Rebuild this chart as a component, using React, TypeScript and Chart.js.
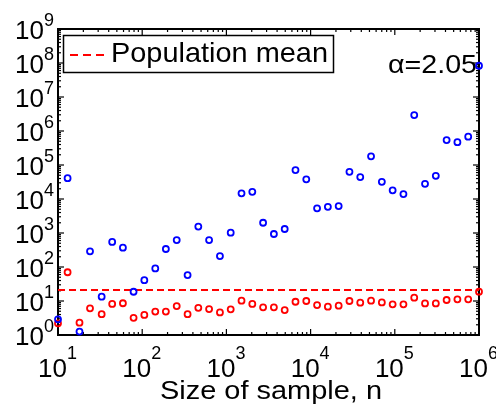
import React, { useEffect, useRef } from "react";
import { Chart, registerables } from "chart.js";

Chart.register(...registerables);

// Sample sizes n (log-spaced, 40 points from 10 to 10^6)
const SAMPLE_SIZES = [
  10, 13, 18, 24, 33, 44, 59, 79, 106, 143, 191, 257, 346, 464, 623, 838, 1125,
  1512, 2031, 2728, 3665, 4924, 6615, 8886, 11938, 16037, 21544, 28943, 38881,
  52233, 70170, 94267, 126638, 170125, 228546, 307029, 412463, 554102, 744380,
  1000000,
];

// Blue series
const BLUE_VALUES = [
  2.9, 41000, 1.26, 290, 13.4, 545, 370, 18.7, 41, 91, 338, 620, 58, 1540, 620,
  210, 1020, 14700, 16300, 2000, 935, 1310, 71000, 38000, 5300, 5900, 6200,
  63000, 44000, 180000, 32000, 18000, 14000, 2950000, 28000, 48000, 540000,
  470000, 680000, 83000000,
];

// Red series
const RED_VALUES = [
  2.2, 70, 2.3, 6.1, 4.1, 8.2, 8.6, 3.2, 3.9, 4.9, 4.9, 7.1, 4.1, 6.3, 5.8, 4.6,
  5.7, 10.2, 8.2, 6.5, 6.5, 5.4, 9.5, 10, 7.6, 6.8, 7.3, 10, 8.9, 10.2, 9.1, 8.0,
  8.0, 12.5, 8.5, 8.5, 10.7, 11.2, 11.2, 18.8,
];

const POPULATION_MEAN = 21;
const X_RANGE = [10, 1000000];
const Y_RANGE = [1, 1000000000];
const X_TICK_EXPONENTS = [1, 2, 3, 4, 5, 6];
const Y_TICK_EXPONENTS = [0, 1, 2, 3, 4, 5, 6, 7, 8, 9];
const LEGEND_LABEL = "Population mean";
const ANNOTATION = "α=2.05";
const X_TITLE = "Size of sample, n";

const FONT = '"Liberation Sans", Arial, Helvetica, sans-serif';

function fitText(ctx: CanvasRenderingContext2D, text: string, x: number, y: number, width: number) {
  const w = ctx.measureText(text).width;
  ctx.save();
  ctx.translate(x, y);
  ctx.scale(width / w, 1);
  ctx.textAlign = "left";
  ctx.fillText(text, 0, 0);
  ctx.restore();
}

const axesPlugin = {
  id: "matlabAxes",
  beforeDatasetsDraw(chart: any) {
    const { ctx, chartArea: a, scales } = chart;
    const xs = scales.x;
    const ys = scales.y;
    ctx.save();
    ctx.strokeStyle = "#000";
    ctx.lineWidth = 1.2;
    const seg = (x1: number, y1: number, x2: number, y2: number) => {
      ctx.beginPath();
      ctx.moveTo(x1, y1);
      ctx.lineTo(x2, y2);
      ctx.stroke();
    };
    // x ticks
    for (let e = 1; e <= 6; e++) {
      for (let m = 1; m <= 9; m++) {
        const v = m * Math.pow(10, e);
        if (v > X_RANGE[1]) break;
        const px = xs.getPixelForValue(v);
        const len = m === 1 ? 6 : 3;
        seg(px, a.bottom, px, a.bottom - len);
        seg(px, a.top, px, a.top + len);
      }
    }
    // y ticks
    for (let e = 0; e <= 9; e++) {
      for (let m = 1; m <= 9; m++) {
        const v = m * Math.pow(10, e);
        if (v > Y_RANGE[1]) break;
        const py = ys.getPixelForValue(v);
        const len = m === 1 ? 6 : 3;
        seg(a.left, py, a.left + len, py);
        seg(a.right, py, a.right - len, py);
      }
    }
    // box
    ctx.lineWidth = 2;
    ctx.strokeRect(a.left, a.top, a.right - a.left, a.bottom - a.top);

    ctx.fillStyle = "#000";
    ctx.textBaseline = "alphabetic";
    // y tick labels
    Y_TICK_EXPONENTS.forEach((e) => {
      const py = ys.getPixelForValue(Math.pow(10, e));
      ctx.font = `26px ${FONT}`;
      ctx.textAlign = "right";
      ctx.fillText("10", 44, py + 9.5);
      ctx.font = `18px ${FONT}`;
      ctx.textAlign = "left";
      ctx.fillText(String(e), 44, py - 3.5);
    });
    // x tick labels
    X_TICK_EXPONENTS.forEach((e) => {
      const px = xs.getPixelForValue(Math.pow(10, e));
      ctx.font = `26px ${FONT}`;
      ctx.textAlign = "right";
      ctx.fillText("10", px + 9, 377);
      ctx.font = `18px ${FONT}`;
      ctx.textAlign = "left";
      ctx.fillText(String(e), px + 9, 359);
    });
    // x title
    ctx.font = `25px ${FONT}`;
    fitText(ctx, X_TITLE, 160, 399, 222);
    // annotation
    ctx.font = `26px ${FONT}`;
    fitText(ctx, ANNOTATION, 388, 73, 89);
    ctx.restore();
  },
  afterDatasetsDraw(chart: any) {
    const { ctx } = chart;
    ctx.save();
    ctx.fillStyle = "#fff";
    ctx.fillRect(63.5, 35.5, 270, 37);
    ctx.strokeStyle = "#000";
    ctx.lineWidth = 1.5;
    ctx.strokeRect(63.5, 35.5, 270, 37);
    ctx.strokeStyle = "#ff0000";
    ctx.lineWidth = 2;
    ctx.setLineDash([8, 5]);
    ctx.beginPath();
    ctx.moveTo(70, 55);
    ctx.lineTo(108, 55);
    ctx.stroke();
    ctx.setLineDash([]);
    ctx.fillStyle = "#000";
    ctx.font = `28px ${FONT}`;
    ctx.textBaseline = "alphabetic";
    fitText(ctx, LEGEND_LABEL, 111, 62, 217);
    ctx.restore();
  },
};

export default function App() {
  const canvasRef = useRef<HTMLCanvasElement | null>(null);

  useEffect(() => {
    const canvas = canvasRef.current;
    if (!canvas) return;
    const blue = SAMPLE_SIZES.map((n, i) => ({ x: n, y: BLUE_VALUES[i] }));
    const red = SAMPLE_SIZES.map((n, i) => ({ x: n, y: RED_VALUES[i] }));
    const chart = new Chart(canvas, {
      type: "scatter",
      data: {
        datasets: [
          {
            label: "blue",
            data: blue,
            borderColor: "#0000ff",
            backgroundColor: "rgba(0,0,0,0)",
            pointRadius: 3,
            pointBorderWidth: 1.8,
            clip: false as any,
          },
          {
            label: "red",
            data: red,
            borderColor: "#ff0000",
            backgroundColor: "rgba(0,0,0,0)",
            pointRadius: 3,
            pointBorderWidth: 1.8,
            clip: false as any,
          },
          {
            type: "line" as any,
            label: LEGEND_LABEL,
            data: [
              { x: X_RANGE[0], y: POPULATION_MEAN },
              { x: X_RANGE[1], y: POPULATION_MEAN },
            ],
            borderColor: "#ff0000",
            borderWidth: 2,
            borderDash: [7, 4],
            pointRadius: 0,
            showLine: true,
            fill: false,
          } as any,
        ],
      },
      options: {
        responsive: false,
        maintainAspectRatio: false,
        animation: false,
        devicePixelRatio: 1,
        layout: { padding: { left: 58, right: 17, top: 29, bottom: 72 } },
        scales: {
          x: { type: "logarithmic", min: X_RANGE[0], max: X_RANGE[1], display: false },
          y: { type: "logarithmic", min: Y_RANGE[0], max: Y_RANGE[1], display: false },
        },
        plugins: {
          legend: { display: false },
          tooltip: { enabled: false },
        },
      },
      plugins: [axesPlugin],
    });
    return () => chart.destroy();
  }, []);

  return (
    <div style={{ position: "absolute", left: 0, top: 0, width: 496, height: 407, background: "#fff" }}>
      <canvas ref={canvasRef} width={496} height={407} style={{ display: "block" }} />
    </div>
  );
}
